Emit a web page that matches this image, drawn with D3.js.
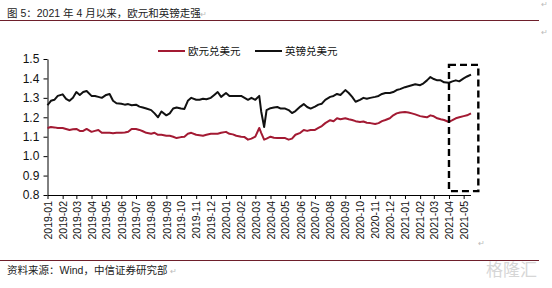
<!DOCTYPE html>
<html>
<head>
<meta charset="utf-8">
<script src="https://cdn.jsdelivr.net/npm/d3@7.9.0/dist/d3.min.js"></script>
<style>
  body { margin: 0; background: #fff; }
  svg { display: block; font-family: "Liberation Sans", "Noto Sans CJK SC", sans-serif; }
  .mark { fill: #bbb; }
</style>
</head>
<body>
<svg id="chart" width="552" height="288"></svg>
<script>
const dates = [
  '2019-01-01','2019-01-08','2019-01-15','2019-01-22',
  '2019-02-01','2019-02-08','2019-02-15','2019-02-22',
  '2019-03-01','2019-03-08','2019-03-15','2019-03-22',
  '2019-04-01','2019-04-08','2019-04-15','2019-04-22',
  '2019-05-01','2019-05-08','2019-05-15','2019-05-22',
  '2019-06-01','2019-06-08','2019-06-15','2019-06-22',
  '2019-07-01','2019-07-08','2019-07-15','2019-07-22',
  '2019-08-01','2019-08-08','2019-08-15','2019-08-22',
  '2019-09-01','2019-09-08','2019-09-15','2019-09-22',
  '2019-10-01','2019-10-08','2019-10-15','2019-10-22',
  '2019-11-01','2019-11-08','2019-11-15','2019-11-22',
  '2019-12-01','2019-12-08','2019-12-15','2019-12-22',
  '2020-01-01','2020-01-08','2020-01-15','2020-01-22',
  '2020-02-01','2020-02-08','2020-02-15','2020-02-22',
  '2020-03-01','2020-03-09','2020-03-13','2020-03-19','2020-03-24',
  '2020-04-01','2020-04-08','2020-04-15','2020-04-22',
  '2020-05-01','2020-05-08','2020-05-15','2020-05-22',
  '2020-06-01','2020-06-08','2020-06-15','2020-06-22',
  '2020-07-01','2020-07-08','2020-07-15','2020-07-22',
  '2020-08-01','2020-08-08','2020-08-15','2020-08-22',
  '2020-09-01','2020-09-08','2020-09-15','2020-09-22',
  '2020-10-01','2020-10-08','2020-10-15','2020-10-22',
  '2020-11-01','2020-11-08','2020-11-15','2020-11-22',
  '2020-12-01','2020-12-08','2020-12-15','2020-12-22',
  '2021-01-01','2021-01-08','2021-01-15','2021-01-22',
  '2021-02-01','2021-02-08','2021-02-15','2021-02-22',
  '2021-03-01','2021-03-08','2021-03-15','2021-03-22',
  '2021-04-01','2021-04-08','2021-04-15','2021-04-22',
  '2021-05-01','2021-05-08','2021-05-16'
];

const eurUsd = [
  1.145, 1.150, 1.148, 1.145,
  1.145, 1.140, 1.135, 1.138,
  1.140, 1.130, 1.130, 1.140,
  1.125, 1.130, 1.135, 1.120,
  1.120, 1.120, 1.118, 1.120,
  1.120, 1.122, 1.125, 1.140,
  1.140, 1.135, 1.128, 1.120,
  1.115, 1.120, 1.110, 1.110,
  1.105, 1.105, 1.100, 1.093,
  1.098, 1.100, 1.115, 1.120,
  1.110, 1.108, 1.105, 1.110,
  1.115, 1.115, 1.115, 1.120,
  1.125, 1.115, 1.112, 1.105,
  1.100, 1.098, 1.085, 1.090,
  1.100, 1.145, 1.120, 1.085, 1.090,
  1.100, 1.095, 1.093, 1.093,
  1.093, 1.085, 1.090, 1.110,
  1.120, 1.135, 1.130, 1.135,
  1.135, 1.145, 1.155, 1.170,
  1.185, 1.180, 1.195, 1.190,
  1.195, 1.190, 1.186, 1.180,
  1.176, 1.178, 1.172, 1.170,
  1.165, 1.170, 1.180, 1.186,
  1.195, 1.210, 1.220, 1.225,
  1.227, 1.225, 1.220, 1.215,
  1.206, 1.203, 1.200, 1.210,
  1.205, 1.195, 1.190, 1.186,
  1.176, 1.185, 1.195, 1.200,
  1.206, 1.210, 1.220
];

const gbpUsd = [
  1.262, 1.285, 1.290, 1.310,
  1.318, 1.295, 1.285, 1.300,
  1.330, 1.315, 1.330, 1.335,
  1.310, 1.310, 1.305, 1.300,
  1.315, 1.320, 1.285, 1.272,
  1.270, 1.265, 1.268, 1.262,
  1.265, 1.255, 1.250, 1.245,
  1.237, 1.220, 1.200, 1.230,
  1.210, 1.220, 1.245, 1.250,
  1.245, 1.243, 1.285, 1.300,
  1.290, 1.290, 1.295, 1.293,
  1.300, 1.315, 1.330, 1.305,
  1.325, 1.310, 1.310, 1.310,
  1.310, 1.300, 1.290, 1.300,
  1.290, 1.310, 1.230, 1.150, 1.237,
  1.247, 1.250, 1.253, 1.245,
  1.245, 1.237, 1.222, 1.232,
  1.255, 1.268, 1.253, 1.245,
  1.255, 1.265, 1.270, 1.290,
  1.305, 1.310, 1.320, 1.315,
  1.340, 1.325, 1.305, 1.280,
  1.290, 1.300, 1.295, 1.300,
  1.305, 1.310, 1.320, 1.325,
  1.325, 1.330, 1.340, 1.345,
  1.355, 1.360, 1.365, 1.370,
  1.365, 1.375, 1.390, 1.407,
  1.397, 1.390, 1.390, 1.380,
  1.378, 1.385, 1.390, 1.385,
  1.400, 1.410, 1.420
];

const seriesNames = ['欧元兑美元', '英镑兑美元'];
const seriesColors = ['#a31a33', '#111111'];
const yTicks = [0.8, 0.9, 1.0, 1.1, 1.2, 1.3, 1.4, 1.5];
const xDomain = ['2019-01-01', '2021-05-15'];
// highlighted period (dashed box)
const boxDates = ['2021-04-01', '2021-05-31'];
const boxValues = [0.82, 1.47];

const titleText = '图 5：2021 年 4 月以来，欧元和英镑走强';
const sourceText = '资料来源：Wind，中信证券研究部';

const parse = d3.timeParse('%Y-%m-%d');
const svg = d3.select('#chart');

const x = d3.scaleTime().domain(xDomain.map(parse)).range([47.5, 470.5]);
const y = d3.scaleLinear().domain([0.8, 1.5]).range([195, 59]);

// header / footer
svg.append('text').attr('x', 7).attr('y', 17).attr('font-size', 10.5).attr('fill', '#222').text(titleText);
svg.append('text').attr('class', 'mark').attr('x', 200).attr('y', 17).attr('font-size', 8).text('↵');
svg.append('line').attr('x1', 0).attr('x2', 539).attr('y1', 20.5).attr('y2', 20.5)
  .attr('stroke', '#6e1f2b').attr('stroke-width', 1.2);
svg.append('text').attr('class', 'mark').attr('x', 541).attr('y', 7).attr('font-size', 8).text('↵');
svg.append('text').attr('class', 'mark').attr('x', 541).attr('y', 35).attr('font-size', 8).text('↵');

svg.append('line').attr('x1', 0).attr('x2', 539).attr('y1', 260.5).attr('y2', 260.5)
  .attr('stroke', '#6e1f2b').attr('stroke-width', 1.2);
svg.append('text').attr('x', 7).attr('y', 274).attr('font-size', 10.5).attr('fill', '#222').text(sourceText);
svg.append('text').attr('class', 'mark').attr('x', 170).attr('y', 274).attr('font-size', 8).text('↵');
svg.append('text').attr('class', 'mark').attr('x', 478).attr('y', 246).attr('font-size', 8).text('↵');
// faint watermark
svg.append('text').attr('x', 486).attr('y', 276).attr('font-size', 17).attr('fill', '#d6d6d6').text('格隆汇');

// axes
const yAxis = svg.append('g').attr('transform', 'translate(47.5,0)')
  .call(d3.axisLeft(y).tickValues(yTicks).tickFormat(d3.format('.1f')).tickSize(4).tickSizeOuter(0));
yAxis.selectAll('text').attr('font-size', 12).attr('fill', '#111').attr('dx', '-0.1em');

const months = d3.timeMonth.range(parse('2019-01-01'), parse('2021-05-02'));
const xAxis = svg.append('g').attr('transform', 'translate(0,195)')
  .call(d3.axisBottom(x).tickValues(months).tickFormat(d3.timeFormat('%Y-%m')).tickSize(4).tickSizeOuter(0));
xAxis.selectAll('text')
  .attr('font-size', 10.5).attr('fill', '#111')
  .attr('transform', 'rotate(-90)')
  .attr('text-anchor', 'end')
  .attr('x', -6).attr('y', 0).attr('dy', '0.35em');

svg.selectAll('.domain, .tick line').attr('stroke', '#000').attr('stroke-width', 1);

// lines
const line = d3.line().x((d, i) => x(parse(dates[i]))).y((d) => y(d));
[eurUsd, gbpUsd].forEach((vals, k) => {
  svg.append('path').datum(vals)
    .attr('d', line)
    .attr('fill', 'none')
    .attr('stroke', seriesColors[k])
    .attr('stroke-width', 2)
    .attr('stroke-linejoin', 'round');
});

// dashed highlight box
const bx0 = x(parse(boxDates[0])), bx1 = x(parse(boxDates[1]));
svg.append('rect')
  .attr('x', bx0).attr('y', y(boxValues[1]))
  .attr('width', bx1 - bx0).attr('height', y(boxValues[0]) - y(boxValues[1]))
  .attr('fill', 'none').attr('stroke', '#000').attr('stroke-width', 2.4)
  .attr('stroke-dasharray', '7,4');

// legend
const legendX = [158, 255];
seriesNames.forEach((name, k) => {
  const g = svg.append('g').attr('transform', `translate(${legendX[k]},51)`);
  g.append('line').attr('x1', 0).attr('x2', 27).attr('y1', 0).attr('y2', 0)
    .attr('stroke', seriesColors[k]).attr('stroke-width', 2);
  g.append('text').attr('x', 30).attr('y', 4).attr('font-size', 10.5).attr('fill', '#111').text(name);
});
</script>
</body>
</html>
